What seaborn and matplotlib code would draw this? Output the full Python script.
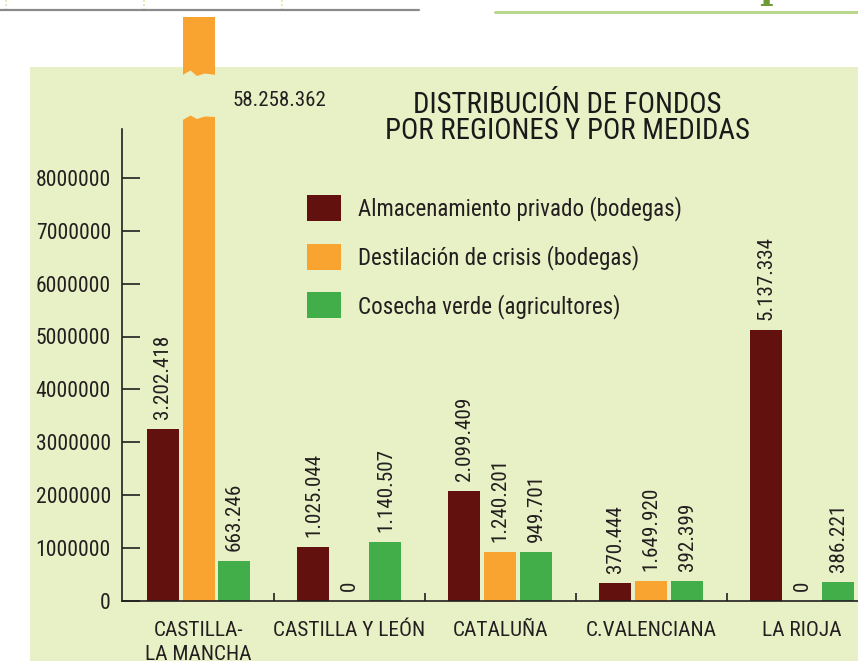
import matplotlib
matplotlib.use("Agg")
import matplotlib.pyplot as plt
from matplotlib import font_manager, transforms
from matplotlib.patches import Rectangle, Polygon
from matplotlib.lines import Line2D
import seaborn as sns
import pandas as pd

# ---------------- data ----------------
regions = ["CASTILLA-\nLA MANCHA", "CASTILLA Y LEÓN", "CATALUÑA", "C.VALENCIANA", "LA RIOJA"]
series_names = ["Almacenamiento privado (bodegas)",
                "Destilación de crisis (bodegas)",
                "Cosecha verde (agricultores)"]
# bar heights as drawn in the picture
almacenamiento = [3250000, 1020000, 2080000, 340000, 5120000]
destilacion = [58258362, 0, 930000, 380000, 0]
cosecha = [760000, 1115000, 930000, 380000, 360000]
# printed value labels
almacenamiento_labels = ["3.202.418", "1.025.044", "2.099.409", "370.444", "5.137.334"]
destilacion_labels = ["58.258.362", "0", "1.240.201", "1.649.920", "0"]
cosecha_labels = ["663.246", "1.140.507", "949.701", "392.399", "386.221"]
y_ticks = [0, 1000000, 2000000, 3000000, 4000000, 5000000, 6000000, 7000000, 8000000]
y_tick_labels = ["0", "1000000", "2000000", "3000000", "4000000",
                 "5000000", "6000000", "7000000", "8000000"]
title = "DISTRIBUCIÓN DE FONDOS\nPOR REGIONES Y POR MEDIDAS"

colors = ["#63110E", "#F9A431", "#41AE4A"]
panel = "#E8F0C5"
ink = "#231F20"

# ---------------- style ----------------
sns.set_theme(style="ticks")
names = {f.name for f in font_manager.fontManager.ttflist}
main_font = "DejaVu Sans"
for cand in ("Roboto Condensed", "Archivo Narrow", "Liberation Sans Narrow", "Barlow Semi Condensed"):
    if cand in names:
        main_font = cand
        break
plt.rcParams["font.family"] = [main_font, "DejaVu Sans"]
plt.rcParams["text.color"] = ink

W, H = 858, 661
fig = plt.figure(figsize=(W / 100, H / 100), dpi=100)
fig.patch.set_facecolor("white")

# light green panel
fig.patches.append(Rectangle((30 / W, 0), 1, (H - 67) / H, transform=fig.transFigure,
                             facecolor=panel, edgecolor="none", zorder=-5))
# top decorations
fig.lines.append(Line2D([0, 419 / W], [1 - 10 / H] * 2, transform=fig.transFigure,
                        color="#8A8A8A", lw=1.6))
fig.lines.append(Line2D([495 / W, 1], [1 - 12 / H] * 2, transform=fig.transFigure,
                        color="#B9D88E", lw=2.2))
for xv in (6, 144, 282):
    fig.lines.append(Line2D([xv / W] * 2, [1, 1 - 9 / H], transform=fig.transFigure,
                            color="#D5E69A", lw=1.2, ls=(0, (1, 1.5))))
fig.text(772 / W, 1 + 1.5 / H, "p", fontsize=26, fontweight="bold", color="#6E9A35",
         family="DejaVu Serif", ha="center", va="baseline")

# ---------------- axes ----------------
ax = fig.add_axes([122 / W, 60 / H, (W - 122) / W, (601 - 17) / H])
ax.set_facecolor("none")

df = pd.DataFrame({
    "region": regions * 3,
    "medida": [series_names[0]] * 5 + [series_names[1]] * 5 + [series_names[2]] * 5,
    "valor": almacenamiento + destilacion + cosecha,
})
sns.barplot(data=df, x="region", y="valor", hue="medida", palette=colors,
            width=0.715, gap=0.11, linewidth=0, saturation=1, ax=ax, zorder=2)

ax.set_ylim(0, (601 - 17) / 52.9 * 1e6)
ax.set_xlim(-0.507, 4.37)
ax.set_xlabel("")
ax.set_ylabel("")

for s in ("top", "right"):
    ax.spines[s].set_visible(False)
for s in ("left", "bottom"):
    ax.spines[s].set_color(ink)
    ax.spines[s].set_linewidth(1.2)
ax.spines["left"].set_bounds(0, (601 - 129) / 52.9 * 1e6)

fs = 16.6
ax.set_yticks(y_ticks)
ax.set_yticklabels(y_tick_labels)
ax.tick_params(axis="y", direction="in", length=13, width=1.2, pad=8,
               labelsize=15.6, colors=ink)
ax.set_xticks(range(len(regions)))
ax.set_xticklabels(regions)
ax.tick_params(axis="x", which="major", length=0, pad=14.5, labelsize=15.4, colors=ink)
ax.set_xticks([0.5, 1.5, 2.5, 3.5], minor=True)
ax.tick_params(axis="x", which="minor", direction="in", length=6, width=1.2, color=ink)
for t in ax.get_xticklabels():
    t.set_linespacing(1.3)

# value labels
label_sets = [almacenamiento_labels, destilacion_labels, cosecha_labels]
for i, cont in enumerate(ax.containers):
    labs = list(label_sets[i])
    if i == 1:
        labs[0] = ""
    ax.bar_label(cont, labels=labs, rotation=90, padding=7, fontsize=15.2, color=ink)

# broken orange bar
big = ax.containers[1][0]
x0, bw = big.get_x(), big.get_width()
blend = transforms.blended_transform_factory(ax.transData, transforms.IdentityTransform())
fr = [-0.05, 0.25, 0.45, 0.7, 1.05]
upper = [76, 70.5, 76, 73.5, 75]
lower = [121, 115.5, 119, 116.5, 117]
pts = [(x0 + f * bw, H - u) for f, u in zip(fr, upper)] + \
      [(x0 + f * bw, H - l) for f, l in zip(fr[::-1], lower[::-1])]
ax.add_patch(Polygon(pts, closed=True, transform=blend, facecolor=panel,
                     edgecolor="none", zorder=3, clip_on=False))
ax.annotate(destilacion_labels[0], xy=(x0 + bw, H - 100), xycoords=blend,
            xytext=(13, 0), textcoords="offset points", ha="left", va="center",
            fontsize=15.0, color=ink)

# legend
handles, labels = ax.get_legend_handles_labels()
fpx = fs * 100 / 72
ax.legend(handles, labels, loc="upper left", bbox_to_anchor=(307 / W, 1 - 195 / H),
          bbox_transform=fig.transFigure, frameon=False, borderpad=0, borderaxespad=0,
          handlelength=34 / fpx, handleheight=31 / fpx, handletextpad=17 / fpx,
          labelspacing=0.98, fontsize=fs, labelcolor=ink)

# title
fig.text(567 / W, 1 - 118 / H, title, ha="center", va="center", fontsize=20.7,
         linespacing=0.9, color="#1A1A1A")

fig.savefig("out.png", dpi=100, facecolor=fig.get_facecolor())
